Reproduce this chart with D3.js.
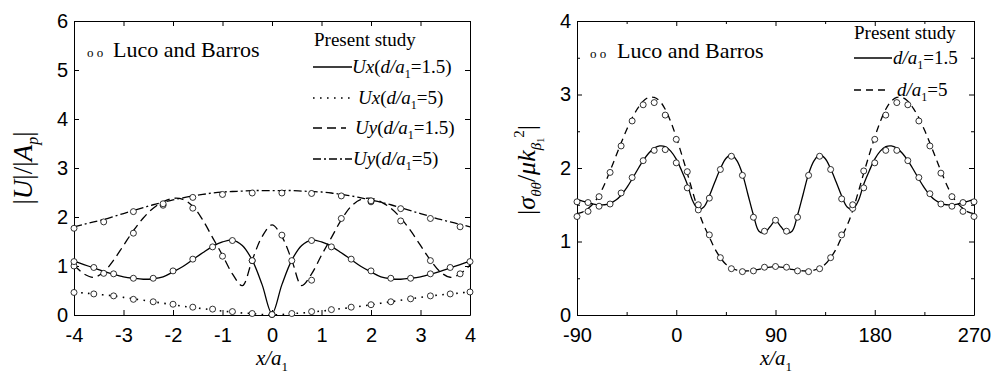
<!DOCTYPE html>
<html>
<head>
<meta charset="utf-8">
<script src="https://cdn.jsdelivr.net/npm/d3@7"></script>
<style>
  body { margin: 0; background: #fff; }
  .tick text { font-family: "Liberation Sans", Arial, sans-serif; font-size: 20px; fill: #000; }
  .serif { font-family: "Liberation Serif", "Times New Roman", serif; fill: #000; }
</style>
</head>
<body>
<svg id="chart" width="993" height="377"></svg>
<script>
// ---- left panel: |U|/|Ap| against x/a1 ----
const xLine = [-4, -3.8, -3.6, -3.4, -3.2, -3, -2.8, -2.6, -2.4, -2.2, -2, -1.8, -1.6, -1.4, -1.2, -1, -0.8, -0.6, -0.4, -0.2,
  0, 0.2, 0.4, 0.6, 0.8, 1, 1.2, 1.4, 1.6, 1.8, 2, 2.2, 2.4, 2.6, 2.8, 3, 3.2, 3.4, 3.6, 3.8, 4];
const uxNearLine = [1.10, 1.03, 0.96, 0.89, 0.83, 0.78, 0.75, 0.73, 0.74, 0.78, 0.88, 0.99, 1.13, 1.27, 1.40, 1.49, 1.53, 1.42, 1.12, 0.62,
  0.03, 0.62, 1.12, 1.42, 1.53, 1.49, 1.40, 1.27, 1.13, 0.99, 0.88, 0.78, 0.74, 0.73, 0.75, 0.78, 0.83, 0.89, 0.96, 1.03, 1.10];
const uxFarLine = [0.47, 0.45, 0.43, 0.41, 0.39, 0.36, 0.33, 0.30, 0.27, 0.24, 0.21, 0.18, 0.15, 0.13, 0.10, 0.08, 0.06, 0.04, 0.03, 0.01,
  0.00, 0.01, 0.03, 0.04, 0.06, 0.08, 0.10, 0.13, 0.15, 0.18, 0.21, 0.24, 0.27, 0.30, 0.33, 0.36, 0.39, 0.41, 0.43, 0.45, 0.47];
const uyNearLine = [1.02, 0.84, 0.77, 0.88, 1.12, 1.42, 1.72, 1.98, 2.18, 2.31, 2.38, 2.36, 2.22, 1.94, 1.58, 1.22, 0.84, 0.60, 1.12, 1.60,
  1.84, 1.60, 1.12, 0.60, 0.84, 1.22, 1.58, 1.94, 2.22, 2.36, 2.38, 2.31, 2.18, 1.98, 1.72, 1.42, 1.12, 0.88, 0.77, 0.84, 1.02];
const uyFarLine = [1.80, 1.85, 1.90, 1.95, 2.01, 2.07, 2.13, 2.19, 2.25, 2.30, 2.35, 2.39, 2.43, 2.46, 2.49, 2.51, 2.52, 2.53, 2.54, 2.54,
  2.54, 2.54, 2.54, 2.53, 2.52, 2.51, 2.49, 2.46, 2.43, 2.39, 2.35, 2.30, 2.25, 2.19, 2.13, 2.07, 2.01, 1.95, 1.90, 1.85, 1.80];

// Luco and Barros points
const xPtsA = [-4, -3.6, -3.2, -2.8, -2.4, -2, -1.6, -1.2, -0.8, -0.4, 0, 0.4, 0.8, 1.2, 1.6, 2, 2.4, 2.8, 3.2, 3.6, 4];
const uxNearPts = [1.09, 0.97, 0.84, 0.75, 0.75, 0.90, 1.14, 1.39, 1.52, 1.11, 0.01, 1.11, 1.52, 1.39, 1.14, 0.90, 0.75, 0.75, 0.84, 0.97, 1.09];
const uxFarPts = [0.46, 0.43, 0.39, 0.32, 0.27, 0.22, 0.16, 0.12, 0.07, 0.03, 0.01, 0.03, 0.07, 0.11, 0.16, 0.21, 0.27, 0.33, 0.39, 0.43, 0.47];
const xPtsB = [-4, -3.4, -2.8, -2.2, -1.6, -1, -0.4, 0.2, 0.8, 1.4, 2, 2.6, 3.2, 3.8];
const uyNearPts = [1.00, 0.85, 1.67, 2.27, 2.18, 1.20, 1.11, 1.63, 0.71, 1.97, 2.33, 1.92, 1.11, 0.84];
const uyFarPts = [1.77, 1.90, 2.11, 2.24, 2.40, 2.46, 2.49, 2.49, 2.48, 2.43, 2.31, 2.17, 1.97, 1.80];

const leftXTicks = [-4, -3, -2, -1, 0, 1, 2, 3, 4];
const leftYTicks = [0, 1, 2, 3, 4, 5, 6];

// ---- right panel: |sigma/mu k^2| against angle ----
const thLine = [-90, -85, -80, -75, -70, -65, -60, -55, -50, -45, -40, -35, -30, -25, -20, -15, -10, -5, 0, 5, 10, 15, 20, 25, 30, 35,
  40, 45, 50, 55, 60, 65, 70, 75, 80, 85, 90, 95, 100, 105, 110, 115, 120, 125, 130, 135, 140, 145, 150, 155, 160, 165, 170,
  175, 180, 185, 190, 195, 200, 205, 210, 215, 220, 225, 230, 235, 240, 245, 250, 255, 260, 265, 270];
const sNearLine = [1.57, 1.55, 1.53, 1.51, 1.50, 1.50, 1.52, 1.56, 1.63, 1.73, 1.85, 1.98, 2.10, 2.20, 2.27, 2.30, 2.29, 2.23, 2.12,
  1.96, 1.78, 1.55, 1.44, 1.47, 1.62, 1.81, 1.99, 2.13, 2.18, 2.10, 1.92, 1.64, 1.36, 1.14, 1.12, 1.20, 1.28,
  1.20, 1.12, 1.14, 1.36, 1.64, 1.92, 2.10, 2.18, 2.13, 1.99, 1.81, 1.62, 1.47, 1.44, 1.55, 1.78, 1.96,
  2.12, 2.23, 2.29, 2.30, 2.27, 2.20, 2.10, 1.98, 1.85, 1.73, 1.63, 1.56, 1.52, 1.50, 1.50, 1.51, 1.53, 1.55, 1.57];
const sFarLine = [1.38, 1.40, 1.45, 1.52, 1.63, 1.78, 1.96, 2.15, 2.34, 2.52, 2.68, 2.81, 2.91, 2.96, 2.96, 2.91, 2.80, 2.63, 2.42,
  2.18, 1.93, 1.67, 1.42, 1.22, 1.06, 0.90, 0.78, 0.69, 0.64, 0.61, 0.60, 0.60, 0.61, 0.62, 0.64, 0.65, 0.66,
  0.65, 0.64, 0.62, 0.61, 0.60, 0.60, 0.61, 0.64, 0.69, 0.78, 0.90, 1.06, 1.22, 1.42, 1.67, 1.93, 2.18,
  2.42, 2.63, 2.80, 2.91, 2.96, 2.96, 2.91, 2.81, 2.68, 2.52, 2.34, 2.15, 1.96, 1.78, 1.63, 1.52, 1.45, 1.40, 1.38];

const thPts = [-90, -80, -70, -60, -50, -40, -30, -20, -10, 0, 10, 20, 30, 40, 50, 60, 70, 80, 90, 100, 110, 120, 130, 140,
  150, 160, 170, 180, 190, 200, 210, 220, 230, 240, 250, 260, 270];
const sNearPts = [1.54, 1.53, 1.48, 1.51, 1.66, 1.87, 2.10, 2.24, 2.25, 2.07, 1.73, 1.50, 1.59, 1.98, 2.16, 1.90, 1.33, 1.14, 1.29,
  1.14, 1.33, 1.90, 2.16, 1.98, 1.58, 1.50, 1.73, 2.07, 2.24, 2.24, 2.10, 1.87, 1.65, 1.51, 1.48, 1.53, 1.54];
const sFarPts = [1.34, 1.41, 1.61, 1.94, 2.30, 2.64, 2.86, 2.89, 2.72, 2.39, 1.95, 1.43, 1.09, 0.78, 0.63, 0.59, 0.60, 0.65, 0.66,
  0.65, 0.60, 0.59, 0.63, 0.78, 1.09, 1.45, 1.96, 2.39, 2.72, 2.89, 2.86, 2.64, 2.30, 1.93, 1.61, 1.41, 1.34];

const rightXTicks = [-90, 0, 90, 180, 270];
const rightXMinor = [-45, 45, 135, 225];
const rightYTicks = [0, 1, 2, 3, 4];
const rightYMinor = [0.5, 1.5, 2.5, 3.5];

const svg = d3.select("#chart");

// text with sub/superscripts: parts are [text, italic, size, shift]
function rich(sel, parts) {
  let prev = 0;
  parts.forEach(([t, it, fs, sh]) => {
    sel.append("tspan")
      .attr("dy", sh - prev)
      .attr("font-style", it ? "italic" : "normal")
      .attr("font-size", fs)
      .text(t);
    prev = sh;
  });
  return sel;
}

function panel(left, top, w, h, xd, yd, xt, yt, xm, ym) {
  const g = svg.append("g").attr("transform", `translate(${left},${top})`);
  const x = d3.scaleLinear().domain(xd).range([0, w]);
  const y = d3.scaleLinear().domain(yd).range([h, 0]);
  const fmt = (d) => String(d);

  g.append("g").attr("transform", `translate(0,${h})`)
    .call(d3.axisBottom(x).tickValues(xt).tickSize(-5).tickSizeOuter(0).tickPadding(13).tickFormat(fmt));
  g.append("g")
    .call(d3.axisTop(x).tickValues(xt).tickSize(-5).tickSizeOuter(0).tickFormat(""));
  g.append("g")
    .call(d3.axisLeft(y).tickValues(yt).tickSize(-5).tickSizeOuter(0).tickPadding(6).tickFormat(fmt));
  g.append("g").attr("transform", `translate(${w},0)`)
    .call(d3.axisRight(y).tickValues(yt).tickSize(-5).tickSizeOuter(0).tickFormat(""));

  if (xm) {
    g.append("g").attr("transform", `translate(0,${h})`)
      .call(d3.axisBottom(x).tickValues(xm).tickSize(-3).tickFormat(""))
      .select(".domain").remove();
    g.append("g")
      .call(d3.axisTop(x).tickValues(xm).tickSize(-3).tickFormat(""))
      .select(".domain").remove();
  }
  if (ym) {
    g.append("g")
      .call(d3.axisLeft(y).tickValues(ym).tickSize(-3).tickFormat(""))
      .select(".domain").remove();
    g.append("g").attr("transform", `translate(${w},0)`)
      .call(d3.axisRight(y).tickValues(ym).tickSize(-3).tickFormat(""))
      .select(".domain").remove();
  }
  g.selectAll(".domain, .tick line").attr("stroke", "#000").attr("stroke-width", 1);
  return { g, x, y };
}

function curve(p, xs, ys, dash) {
  const line = d3.line()
    .x((d, i) => p.x(xs[i]))
    .y((d) => p.y(d))
    .curve(d3.curveCatmullRom.alpha(0.5));
  p.g.append("path")
    .datum(ys)
    .attr("d", line)
    .attr("fill", "none")
    .attr("stroke", "#000")
    .attr("stroke-width", dash === "dot" ? 1.6 : 1.3)
    .attr("stroke-dasharray", dash === "dot" ? "1.6,5.4" : dash);
}

function dots(p, xs, ys) {
  p.g.append("g")
    .selectAll("circle")
    .data(ys)
    .join("circle")
    .attr("cx", (d, i) => p.x(xs[i]))
    .attr("cy", (d) => p.y(d))
    .attr("r", 3)
    .attr("fill", "#fff")
    .attr("stroke", "#000")
    .attr("stroke-width", 0.8);
}

function legendRow(y0, x1, x2, dash, tx, parts) {
  svg.append("line")
    .attr("x1", x1).attr("x2", x2).attr("y1", y0).attr("y2", y0)
    .attr("stroke", "#000")
    .attr("stroke-width", dash === "dot" ? 1.6 : 1.3)
    .attr("stroke-dasharray", dash === "dot" ? "1.6,5.4" : dash);
  rich(svg.append("text").attr("class", "serif").attr("x", tx).attr("y", y0 + 6), parts);
}

const sub = (t) => [t, false, 12, 5];

// ---------- left panel ----------
const L = panel(74, 21, 396, 294, [-4, 4], [0, 6], leftXTicks, leftYTicks);
curve(L, xLine, uyFarLine, "8,3,2,3");
curve(L, xLine, uyNearLine, "9,5");
curve(L, xLine, uxFarLine, "dot");
curve(L, xLine, uxNearLine, null);
dots(L, xPtsB, uyFarPts);
dots(L, xPtsB, uyNearPts);
dots(L, xPtsA, uxFarPts);
dots(L, xPtsA, uxNearPts);

rich(svg.append("text").attr("class", "serif").attr("text-anchor", "middle")
  .attr("transform", "translate(272,365)"),
  [["x/a", true, 21, 0], ["1", false, 13, 6]]);
rich(svg.append("text").attr("class", "serif").attr("text-anchor", "middle")
  .attr("transform", "translate(32,168) rotate(-90)"),
  [["|", false, 27, 0], ["U", true, 27, 0], ["|/|", false, 27, 0], ["A", true, 27, 0], ["p", true, 16, 6], ["|", false, 27, 0]]);

svg.append("text").attr("class", "serif").attr("x", 87).attr("y", 57).attr("font-size", 13).text("o o");
svg.append("text").attr("class", "serif").attr("x", 113).attr("y", 57).attr("font-size", 22).text("Luco and Barros");
svg.append("text").attr("class", "serif").attr("x", 314).attr("y", 46).attr("font-size", 19).text("Present study");
legendRow(67, 313, 352, null, 352, [["Ux", true, 19, 0], ["(", false, 19, 0], ["d/a", true, 19, 0], sub("1"), ["=1.5)", false, 19, 0]]);
legendRow(98, 313, 352, "dot", 358, [["Ux", true, 19, 0], ["(", false, 19, 0], ["d/a", true, 19, 0], sub("1"), ["=5)", false, 19, 0]]);
legendRow(128, 313, 346, "9,5", 355, [["Uy", true, 19, 0], ["(", false, 19, 0], ["d/a", true, 19, 0], sub("1"), ["=1.5)", false, 19, 0]]);
legendRow(159, 313, 352, "8,3,2,3", 353, [["Uy", true, 19, 0], ["(", false, 19, 0], ["d/a", true, 19, 0], sub("1"), ["=5)", false, 19, 0]]);

// ---------- right panel ----------
const R = panel(577, 21, 397, 294, [-90, 270], [0, 4], rightXTicks, rightYTicks, rightXMinor, rightYMinor);
curve(R, thLine, sFarLine, "7,5");
curve(R, thLine, sNearLine, null);
dots(R, thPts, sFarPts);
dots(R, thPts, sNearPts);

rich(svg.append("text").attr("class", "serif").attr("text-anchor", "middle")
  .attr("transform", "translate(776,365)"),
  [["x/a", true, 21, 0], ["1", false, 13, 6]]);
rich(svg.append("text").attr("class", "serif").attr("text-anchor", "middle")
  .attr("transform", "translate(535,170) rotate(-90)"),
  [["|", false, 26, 0], ["σ", true, 26, 0], ["θθ", true, 15, 6], ["/", false, 26, 0], ["μk", true, 26, 0],
   ["β", true, 15, 6], ["1", false, 10, 9], ["2", false, 15, -11], ["|", false, 26, 0]]);

svg.append("text").attr("class", "serif").attr("x", 590).attr("y", 58).attr("font-size", 13).text("o o");
svg.append("text").attr("class", "serif").attr("x", 617).attr("y", 58).attr("font-size", 22).text("Luco and Barros");
svg.append("text").attr("class", "serif").attr("x", 854).attr("y", 39).attr("font-size", 19).text("Present study");
legendRow(58, 854, 892, null, 893, [["d/a", true, 19, 0], sub("1"), ["=1.5", false, 19, 0]]);
legendRow(90, 854, 890, "7,5", 897, [["d/a", true, 19, 0], sub("1"), ["=5", false, 19, 0]]);
</script>
</body>
</html>
